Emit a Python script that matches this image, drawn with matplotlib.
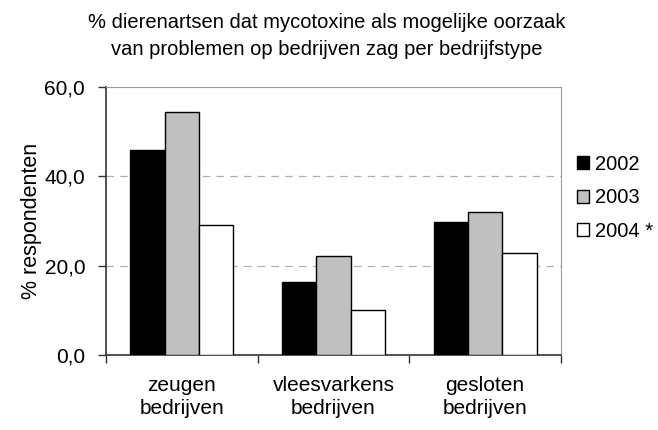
import numpy as np
import matplotlib.pyplot as plt

plt.rcParams['font.family'] = ['Liberation Sans', 'DejaVu Sans']

categories = ['zeugen\nbedrijven', 'vleesvarkens\nbedrijven', 'gesloten\nbedrijven']
years = ['2002', '2003', '2004 *']
values_2002 = [46.0, 16.3, 29.8]
values_2003 = [54.3, 22.1, 32.0]
values_2004 = [29.1, 10.0, 22.8]
yticks = [0, 20, 40, 60]
ytick_labels = ['0,0', '20,0', '40,0', '60,0']

fig = plt.figure(figsize=(6.58, 4.3), dpi=100)
ax = fig.add_axes([106 / 658, 1 - 355 / 430, (561 - 106) / 658, (355 - 87) / 430])

x = np.arange(len(categories))
w = 0.226
series = [values_2002, values_2003, values_2004]
colors = ['black', '#c0c0c0', 'white']
for i, (vals, col) in enumerate(zip(series, colors)):
    ax.bar(x + (i - 1) * w, vals, w, color=col, edgecolor='black', linewidth=1.0,
           label=years[i], zorder=3)

ax.set_xlim(-0.5, 2.5)
ax.set_ylim(0, 60)
ax.set_yticks(yticks)
ax.set_yticklabels(ytick_labels, fontsize=15)
for y in [20, 40]:
    ax.axhline(y, color='#b0b0b0', linestyle=(0, (6, 5)), linewidth=0.9, zorder=1)

ax.set_xticks([-0.5, 0.5, 1.5, 2.5])
ax.set_xticklabels([])
ax.set_xticks(x, minor=True)
ax.set_xticklabels(categories, minor=True, fontsize=15, linespacing=1.25)
ax.tick_params(axis='x', which='minor', length=0, pad=15)
ax.tick_params(axis='x', which='major', length=6, width=1, color='#333333')
ax.tick_params(axis='y', length=6, width=1, color='#333333', pad=9)

for s in ['top', 'right']:
    ax.spines[s].set_color('#999999')
for s in ['left', 'bottom']:
    ax.spines[s].set_color('#333333')
    ax.spines[s].set_linewidth(1.2)

ax.set_ylabel('% respondenten', fontsize=15.5)
ax.yaxis.set_label_coords(-64 / 455, 0.5)
fig.text(327 / 658, 1 - 36 / 430,
         '% dierenartsen dat mycotoxine als mogelijke oorzaak\nvan problemen op bedrijven zag per bedrijfstype',
         ha='center', va='center', fontsize=14.5, linespacing=1.55)

ax.legend(loc='center left', bbox_to_anchor=(0.995, 0.586), frameon=False,
          fontsize=14.5, handlelength=0.6, handleheight=0.6, handletextpad=0.3,
          labelspacing=0.72)

fig.savefig('out.png', dpi=100)
